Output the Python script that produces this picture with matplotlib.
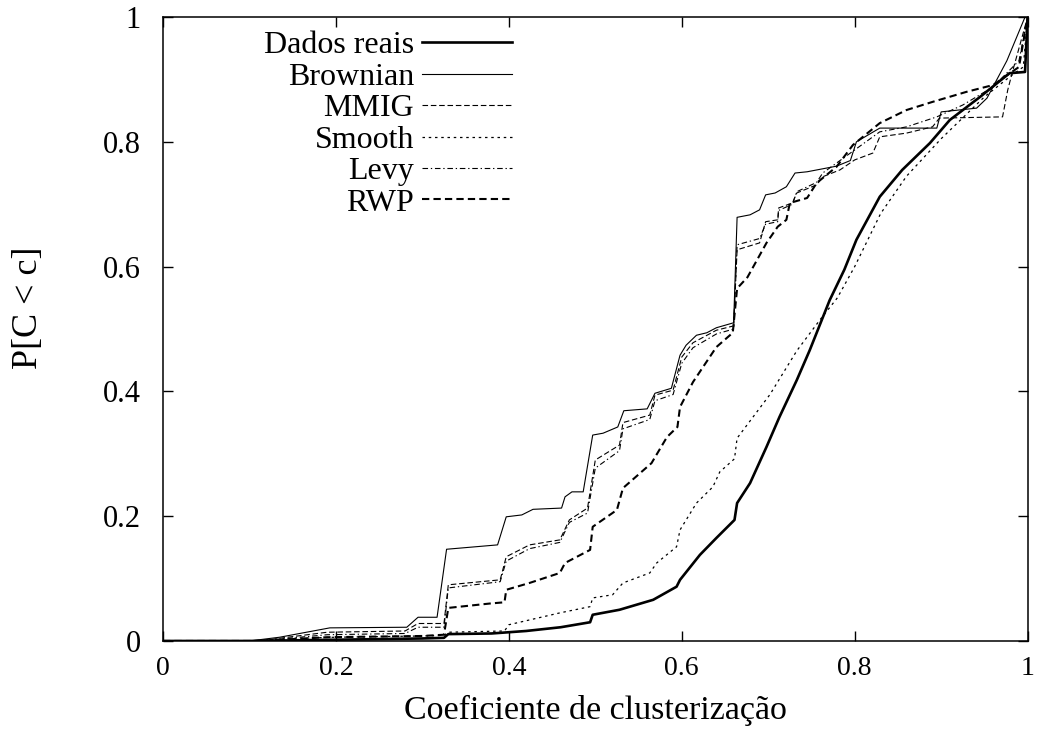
import matplotlib
matplotlib.use('Agg')
import matplotlib.pyplot as plt

plt.rcParams['font.family'] = ['Liberation Serif', 'DejaVu Serif']

# curves
dados_x = [0, 0.1, 0.2, 0.3, 0.325, 0.33, 0.38, 0.42, 0.46, 0.494, 0.497, 0.528, 0.567, 0.594,
           0.598, 0.621, 0.64, 0.661, 0.664, 0.679, 0.698, 0.713, 0.733, 0.748, 0.771, 0.788,
           0.802, 0.829, 0.855, 0.887, 0.91, 0.945, 0.979, 0.997, 1.0]
dados_y = [0, 0, 0.002, 0.004, 0.005, 0.011, 0.012, 0.016, 0.022, 0.030, 0.042, 0.05, 0.066, 0.087,
           0.098, 0.138, 0.165, 0.194, 0.221, 0.253, 0.311, 0.359, 0.418, 0.466, 0.546, 0.595,
           0.643, 0.712, 0.755, 0.798, 0.835, 0.872, 0.91, 0.912, 1.0]

brown_x = [0, 0.1, 0.135, 0.193, 0.282, 0.295, 0.317, 0.328, 0.387, 0.397, 0.415, 0.428, 0.461,
           0.465, 0.473, 0.486, 0.497, 0.509, 0.526, 0.533, 0.56, 0.569, 0.588, 0.598, 0.605,
           0.617, 0.629, 0.64, 0.66, 0.664, 0.679, 0.69, 0.697, 0.708, 0.721, 0.731, 0.745,
           0.779, 0.795, 0.802, 0.829, 0.895, 0.9, 0.941, 0.953, 0.976, 0.997, 1.0]
brown_y = [0, 0, 0.006, 0.021, 0.022, 0.038, 0.038, 0.147, 0.154, 0.199, 0.202, 0.211, 0.213,
           0.231, 0.239, 0.239, 0.33, 0.333, 0.343, 0.369, 0.372, 0.397, 0.405, 0.458, 0.474,
           0.49, 0.494, 0.502, 0.51, 0.679, 0.683, 0.691, 0.715, 0.718, 0.728, 0.75, 0.752,
           0.761, 0.77, 0.80, 0.822, 0.822, 0.848, 0.854, 0.87, 0.93, 1.0, 1.0]

mmig_x = [0, 0.11, 0.19, 0.28, 0.295, 0.325, 0.33, 0.39, 0.397, 0.424, 0.459, 0.47, 0.491, 0.5,
          0.528, 0.532, 0.563, 0.569, 0.59, 0.6, 0.613, 0.64, 0.66, 0.664, 0.69, 0.697, 0.711,
          0.712, 0.728, 0.733, 0.756, 0.763, 0.783, 0.80, 0.821, 0.829, 0.86, 0.89, 0.898,
          0.971, 0.977, 0.983, 1.0]
mmig_y = [0, 0, 0.014, 0.016, 0.028, 0.028, 0.09, 0.098, 0.135, 0.154, 0.162, 0.194, 0.213, 0.29,
          0.314, 0.35, 0.362, 0.394, 0.402, 0.455, 0.478, 0.498, 0.505, 0.627, 0.638, 0.672, 0.675,
          0.694, 0.702, 0.718, 0.731, 0.744, 0.755, 0.771, 0.782, 0.808, 0.814, 0.824, 0.838,
          0.84, 0.883, 0.915, 1.0]

smooth_x = [0, 0.1, 0.15, 0.2, 0.3, 0.325, 0.33, 0.395, 0.4, 0.459, 0.494, 0.497, 0.52, 0.532,
            0.563, 0.571, 0.594, 0.598, 0.617, 0.636, 0.644, 0.661, 0.664, 0.702, 0.733, 0.76,
            0.78, 0.80, 0.83, 0.86, 0.9, 0.95, 0.98, 0.995, 1.0]
smooth_y = [0, 0, 0.004, 0.006, 0.008, 0.009, 0.014, 0.016, 0.026, 0.045, 0.055, 0.069, 0.074,
            0.093, 0.109, 0.125, 0.151, 0.178, 0.221, 0.247, 0.271, 0.292, 0.325, 0.395, 0.465,
            0.515, 0.55, 0.6, 0.685, 0.745, 0.805, 0.872, 0.905, 0.92, 1.0]

levy_x = [0, 0.11, 0.19, 0.28, 0.295, 0.325, 0.33, 0.39, 0.397, 0.424, 0.459, 0.47, 0.491, 0.5,
          0.528, 0.532, 0.563, 0.569, 0.59, 0.6, 0.613, 0.64, 0.66, 0.664, 0.69, 0.697, 0.711,
          0.712, 0.728, 0.733, 0.756, 0.763, 0.783, 0.829, 0.86, 0.895, 0.925, 0.96, 0.99, 1.0]
levy_y = [0, 0, 0.01, 0.012, 0.022, 0.022, 0.085, 0.095, 0.128, 0.148, 0.158, 0.19, 0.205, 0.277,
          0.305, 0.34, 0.355, 0.385, 0.395, 0.445, 0.47, 0.492, 0.5, 0.635, 0.645, 0.668, 0.672,
          0.69, 0.70, 0.72, 0.735, 0.75, 0.77, 0.816, 0.824, 0.84, 0.859, 0.888, 0.93, 1.0]

rwp_x = [0, 0.11, 0.19, 0.3, 0.325, 0.33, 0.378, 0.395, 0.397, 0.424, 0.459, 0.465, 0.494, 0.497,
         0.525, 0.532, 0.565, 0.583, 0.595, 0.598, 0.613, 0.64, 0.659, 0.664, 0.676, 0.698,
         0.711, 0.721, 0.725, 0.745, 0.756, 0.779, 0.798, 0.829, 0.86, 0.89, 0.929, 0.96, 0.99, 1.0]
rwp_y = [0, 0, 0.006, 0.008, 0.01, 0.053, 0.06, 0.062, 0.082, 0.093, 0.109, 0.125, 0.146, 0.183,
         0.21, 0.245, 0.285, 0.327, 0.343, 0.375, 0.415, 0.471, 0.494, 0.565, 0.583, 0.638,
         0.664, 0.675, 0.702, 0.71, 0.734, 0.76, 0.795, 0.83, 0.851, 0.864, 0.88, 0.891, 0.92, 1.0]

ticks = [0, 0.2, 0.4, 0.6, 0.8, 1]
tick_labels = ['0', '0.2', '0.4', '0.6', '0.8', '1']

fig = plt.figure(figsize=(10.38, 7.41), dpi=100)
ax = fig.add_axes([0.157, 0.135, 0.833, 0.842])

ax.plot(dados_x, dados_y, color='black', lw=1.9, ls='-', label='Dados reais')
ax.plot(brown_x, brown_y, color='black', lw=0.8, ls='-', label='Brownian')
ax.plot(mmig_x, mmig_y, color='black', lw=0.8, ls=(0, (5, 2.5)), label='MMIG')
ax.plot(smooth_x, smooth_y, color='black', lw=0.9, ls=(0, (2, 3)), label='Smooth')
ax.plot(levy_x, levy_y, color='black', lw=0.8, ls=(0, (5, 2.5, 1.2, 2.5)), label='Levy')
ax.plot(rwp_x, rwp_y, color='black', lw=1.5, ls=(0, (3.5, 2)), label='RWP')

ax.set_xlim(0, 1)
ax.set_ylim(0, 1)
ax.set_xticks(ticks)
ax.set_xticklabels(tick_labels)
ax.set_yticks(ticks)
ax.set_yticklabels(tick_labels)
ax.tick_params(direction='in', length=7, width=1, top=True, right=True)
ax.tick_params(axis='x', labelsize=20, pad=11)
ax.tick_params(axis='y', labelsize=22, pad=16)
for s in ax.spines.values():
    s.set_linewidth(1.1)

ax.set_xlabel('Coeficiente de clusterização', fontsize=24.5, labelpad=10)
ax.set_ylabel('P[C < c]', fontsize=26)
ax.yaxis.set_label_coords(-0.136, 0.534)

ax.legend(loc='upper right', bbox_to_anchor=(0.418, 0.998), frameon=False, markerfirst=False,
          fontsize=23, handlelength=2.8, handletextpad=0.25, labelspacing=0.065,
          borderaxespad=0)

fig.savefig('out.png', dpi=100)
